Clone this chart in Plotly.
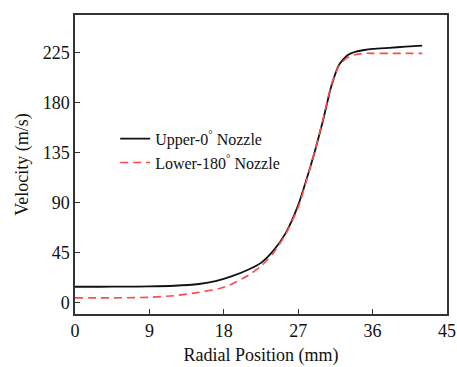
import plotly.graph_objects as go

# Data
radial_upper = [0, 3, 6, 9, 12, 15, 17, 19, 21, 22.5, 24, 25.5, 27, 28, 29, 30, 31, 32, 33, 34, 35, 36, 38, 40, 42]
vel_upper = [14.5, 14.5, 14.6, 14.8, 15.4, 17, 19.5, 24, 30, 36, 47, 63, 88, 111, 136, 164, 195, 215, 223, 226, 227.5, 228.5, 229.5, 230.5, 231.5]

radial_lower = [0, 3, 6, 9, 12, 15, 17.5, 19, 21, 22.5, 24, 25.5, 27, 28, 29, 30, 31, 32, 33, 34, 35, 36, 38, 40, 42]
vel_lower = [4.5, 4.5, 4.6, 5, 6.5, 9.5, 13, 17, 25, 33, 45, 62, 86, 110, 136, 165, 196, 214, 221, 223.5, 224.5, 224.5, 224.5, 224.5, 224.5]

x_ticks = [0, 9, 18, 27, 36, 45]
y_ticks = [0, 45, 90, 135, 180, 225]

font_family = "Liberation Serif, Times New Roman, serif"

fig = go.Figure()
fig.add_trace(go.Scatter(
    x=radial_upper, y=vel_upper, mode="lines", name="Upper-0<sup>°</sup> Nozzle",
    line=dict(color="#111111", width=1.8, shape="spline", smoothing=0.6),
))
fig.add_trace(go.Scatter(
    x=radial_lower, y=vel_lower, mode="lines", name="Lower-180<sup>°</sup> Nozzle",
    line=dict(color="#ff4a4a", width=1.6, dash="8px,5px", shape="spline", smoothing=0.6),
))

axis_common = dict(
    showline=True, linecolor="#333333", linewidth=1.5, mirror=True,
    ticks="inside", ticklen=5, tickwidth=1.2, tickcolor="#333333",
    showgrid=False, zeroline=False, automargin=False,
    tickfont=dict(family=font_family, size=18, color="#111111"),
)

fig.update_layout(
    width=457, height=367,
    margin=dict(l=75, r=10, t=15, b=53),
    paper_bgcolor="white", plot_bgcolor="white",
    font=dict(family=font_family, color="#111111"),
    showlegend=True,
    legend=dict(
        x=0.108, y=0.643, xanchor="left", yanchor="top",
        bgcolor="rgba(0,0,0,0)", font=dict(family=font_family, size=16),
        tracegroupgap=0, itemwidth=30,
    ),
    xaxis=dict(
        range=[0, 45], tickvals=x_ticks, ticktext=[str(v) for v in x_ticks],
        title=dict(text="Radial Position (mm)", font=dict(family=font_family, size=18), standoff=8),
        **axis_common,
    ),
    yaxis=dict(
        range=[-10, 259], tickvals=y_ticks, ticktext=[str(v) for v in y_ticks],
        title=dict(text="Velocity (m/s)", font=dict(family=font_family, size=18), standoff=9),
        **axis_common,
    ),
)

fig.write_html(
    "out.html",
    config={"displayModeBar": False},
    post_script="document.body.style.margin='0';document.body.style.overflow='hidden';",
)
